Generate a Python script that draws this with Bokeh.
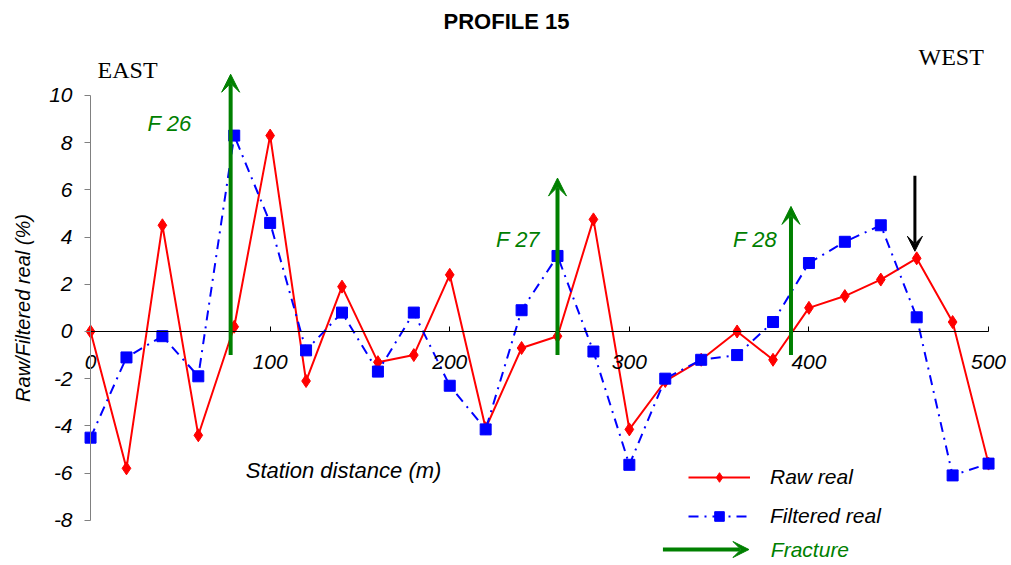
from bokeh.plotting import figure
from bokeh.models import (LinearAxis, FixedTicker, Range1d, Arrow, VeeHead,
                          Legend, LegendItem, ColumnDataSource)
from bokeh.core.properties import value
from bokeh.embed import file_html
from bokeh.resources import INLINE

# ---------------- data ----------------
stations = [0, 20, 40, 60, 80, 100, 120, 140, 160, 180, 200, 220, 240,
            260, 280, 300, 320, 340, 360, 380, 400, 420, 440, 460, 480, 500]
raw_real = [0.0, -5.8, 4.5, -4.4, 0.2, 8.3, -2.1, 1.9, -1.3, -1.0, 2.4, -4.1, -0.7,
            -0.2, 4.75, -4.15, -2.1, -1.2, 0.0, -1.2, 1.0, 1.5, 2.2, 3.1, 0.4, -5.6]
filtered_real = [-4.5, -1.1, -0.2, -1.9, 8.3, 4.6, -0.8, 0.8, -1.7, 0.8, -2.3, -4.15, 0.9,
                 3.2, -0.85, -5.65, -2.0, -1.2, -1.0, 0.4, 2.9, 3.8, 4.5, 0.6, -6.1, -5.6]
x_ticks = [0, 100, 200, 300, 400, 500]
y_ticks = [-8, -6, -4, -2, 0, 2, 4, 6, 8, 10]

fracture_names = ["F 26", "F 27", "F 28"]
fracture_x = [78, 260, 390]
fracture_top = [10.9, 6.5, 5.3]
fracture_base = [-1.0, -1.0, -1.0]
fracture_label_x = [44, 238, 370]
fracture_label_y = [8.8, 3.9, 3.9]

anomaly_x = [459]
anomaly_top = [6.6]
anomaly_tip = [3.4]

GREEN = "#008000"
SANS = "Liberation Sans"
SERIF = "Liberation Serif"

p = figure(width=1011, height=565, output_backend="svg", toolbar_location=None,
           x_range=Range1d(-46.8, 510), y_range=Range1d(-9.79, 12.33),
           x_axis_location=None, y_axis_location=None,
           min_border_left=6, min_border_right=5, min_border_top=40,
           min_border_bottom=3, title="PROFILE 15")
p.grid.visible = False
p.outline_line_color = None
p.title.align = "center"
p.title.offset = -7
p.title.standoff = 13
p.title.text_font = SANS
p.title.text_font_size = "22px"
p.title.text_font_style = "bold"
p.title.text_color = "black"

# axes
xaxis = LinearAxis(fixed_location=0, ticker=FixedTicker(ticks=x_ticks), bounds=(0, 500))
xaxis.major_tick_in = 5
xaxis.major_tick_out = 0
xaxis.minor_tick_in = 0
xaxis.minor_tick_out = 0
xaxis.major_label_standoff = 24
xaxis.major_label_text_font = SANS
xaxis.major_label_text_font_size = "21px"
xaxis.major_label_text_font_style = "italic"
xaxis.major_label_text_color = "black"
xaxis.axis_line_color = "black"
xaxis.major_tick_line_color = "black"
p.add_layout(xaxis, "below")

yaxis = LinearAxis(fixed_location=0, ticker=FixedTicker(ticks=y_ticks), bounds=(-8, 10),
                   axis_label="Raw/Filtered real (%)")
yaxis.major_label_overrides = {t: str(t) for t in y_ticks}
yaxis.major_tick_in = 0
yaxis.major_tick_out = 6
yaxis.minor_tick_in = 0
yaxis.minor_tick_out = 0
yaxis.axis_line_color = "#808080"
yaxis.major_tick_line_color = "#808080"
yaxis.major_label_standoff = 12
yaxis.major_label_text_font = SANS
yaxis.major_label_text_font_size = "21px"
yaxis.major_label_text_font_style = "italic"
yaxis.major_label_text_color = "black"
yaxis.axis_label_text_font = SANS
yaxis.axis_label_text_font_size = "20px"
yaxis.axis_label_text_font_style = "italic"
yaxis.axis_label_text_color = "black"
yaxis.axis_label_standoff = 12
p.add_layout(yaxis, "left")

# fracture arrows
fsrc = ColumnDataSource(dict(x0=fracture_x, y0=fracture_base, x1=fracture_x, y1=fracture_top))
p.add_layout(Arrow(end=VeeHead(size=18, fill_color=GREEN, line_color=GREEN, line_width=1),
                   x_start="x0", y_start="y0", x_end="x1", y_end="y1", source=fsrc,
                   line_color=GREEN, line_width=4))
p.text(x=fracture_label_x, y=fracture_label_y, text=fracture_names,
       text_font=value(SANS), text_font_size="22px", text_font_style="italic",
       text_color=GREEN, text_align="center", text_baseline="middle")

# series
r_raw_line = p.line(stations, raw_real, line_color="red", line_width=2)
r_raw_pts = p.scatter(stations, raw_real, marker="diamond", size=13,
                      fill_color="red", line_color="red")
r_f_line = p.line(stations, filtered_real, line_color="blue", line_width=2,
                  line_dash="10 6 2 6")
r_f_pts = p.scatter(stations, filtered_real, marker="square", size=11,
                    fill_color="blue", line_color="blue")

# anomaly arrow
asrc = ColumnDataSource(dict(x0=anomaly_x, y0=anomaly_top, x1=anomaly_x, y1=anomaly_tip))
p.add_layout(Arrow(end=VeeHead(size=15, fill_color="black", line_color="black", line_width=1),
                   x_start="x0", y_start="y0", x_end="x1", y_end="y1", source=asrc,
                   line_color="black", line_width=3))

# in-plot texts
p.text(x=[3.9], y=[11.06], text=["EAST"], text_font=value(SERIF), text_font_size="24px",
       text_color="black", text_align="left", text_baseline="middle")
p.text(x=[461], y=[11.65], text=["WEST"], text_font=value(SERIF), text_font_size="24px",
       text_color="black", text_align="left", text_baseline="middle")
p.text(x=[86.4], y=[-5.9], text=["Station distance (m)"], text_font=value(SANS),
       text_font_size="22px", text_font_style="italic", text_color="black",
       text_align="left", text_baseline="middle")

# legend
legend = Legend(items=[LegendItem(label="Raw real", renderers=[r_raw_line, r_raw_pts]),
                       LegendItem(label="Filtered real", renderers=[r_f_line, r_f_pts])],
                location=(682, 34), orientation="vertical")
legend.background_fill_alpha = 0
legend.border_line_color = None
legend.padding = 0
legend.margin = 0
legend.spacing = 15
legend.glyph_width = 62
legend.glyph_height = 24
legend.label_height = 24
legend.label_standoff = 20
legend.label_text_font = SANS
legend.label_text_font_size = "21px"
legend.label_text_font_style = "italic"
legend.label_text_color = "black"
p.add_layout(legend)

# fracture legend entry
p.add_layout(Arrow(end=VeeHead(size=16, fill_color=GREEN, line_color=GREEN, line_width=1),
                   x_start=318.7, y_start=-9.24, x_end=366.6, y_end=-9.24,
                   line_color=GREEN, line_width=4))
p.text(x=[378.8], y=[-9.24], text=["Fracture"], text_font=value(SANS),
       text_font_size="21px", text_font_style="italic", text_color=GREEN,
       text_align="left", text_baseline="middle")

open("out.html", "w").write(file_html(p, INLINE))
